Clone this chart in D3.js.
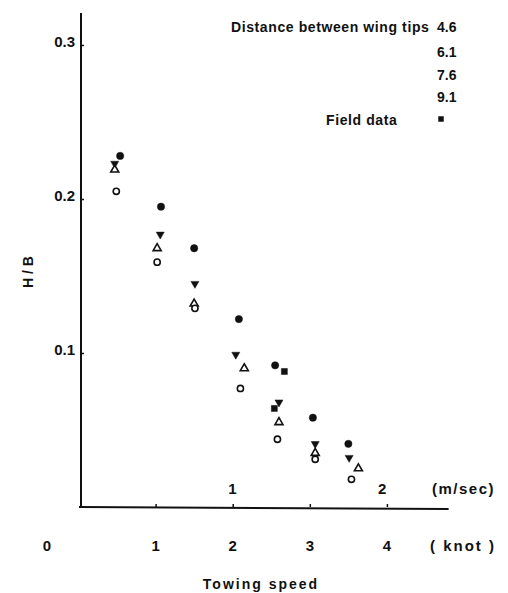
<!DOCTYPE html>
<html>
<head>
<meta charset="utf-8">
<title>H/B vs towing speed</title>
<script src="https://cdn.jsdelivr.net/npm/d3@7"></script>
<style>
  body { margin: 0; background: #fff; }
  svg text { font-family: "Liberation Sans", Arial, sans-serif; font-weight: bold; fill: #111; }
</style>
</head>
<body>
<div id="chart"></div>
<script>
// towing speed in knots, H/B
var wing46X = [0.54, 1.07, 1.50, 2.08, 2.55, 3.04, 3.50];
var wing46Y = [0.228, 0.195, 0.168, 0.122, 0.092, 0.058, 0.041];
var wing61X = [0.47, 1.06, 1.51, 2.04, 2.60, 3.07, 3.51];
var wing61Y = [0.223, 0.177, 0.145, 0.099, 0.068, 0.041, 0.032];
var wing76X = [0.47, 1.02, 1.50, 2.15, 2.60, 3.07, 3.63];
var wing76Y = [0.219, 0.168, 0.132, 0.090, 0.055, 0.035, 0.025];
var wing91X = [0.49, 1.02, 1.51, 2.10, 2.58, 3.07, 3.54];
var wing91Y = [0.205, 0.159, 0.129, 0.077, 0.044, 0.031, 0.018];
var fieldX = [2.67, 2.54];
var fieldY = [0.088, 0.064];

var legendLabels = ["4.6", "6.1", "7.6", "9.1"];
var knotTicks = [0, 1, 2, 3, 4];
var msTicks = [1, 2];
var yTicks = [0.1, 0.2, 0.3];

var W = 508, H = 593;
var svg = d3.select("#chart").append("svg").attr("width", W).attr("height", H);

var x = d3.scaleLinear().domain([0, 4.8]).range([78.5, 448.6]);
var y = d3.scaleLinear().domain([0, 0.32]).range([507, 14.2]);
var KNOT_PER_MS = 1.944;

// y axis
var yAxis = d3.axisLeft(y).tickValues(yTicks).tickFormat(d3.format(".1f"))
  .tickSizeInner(-3).tickSizeOuter(0).tickPadding(6);
var gy = svg.append("g").attr("transform", "translate(81,0)").call(yAxis);
gy.select(".domain").remove();
gy.selectAll("line").attr("stroke", "#111").attr("stroke-width", 1.5);
gy.selectAll("text").style("font-size", "15px").attr("dy", "0.1em");
svg.append("line").attr("x1", 81).attr("x2", 81).attr("y1", 13).attr("y2", y(0))
  .attr("stroke", "#111").attr("stroke-width", 2);

// x axis (knots below, m/sec above)
var xAxis = d3.axisBottom(x).tickValues(knotTicks.slice(1)).tickFormat("")
  .tickSizeInner(-3).tickSizeOuter(0);
var gx = svg.append("g").attr("transform", "translate(0," + y(0) + ")").call(xAxis);
gx.select(".domain").remove();
gx.selectAll("line").attr("stroke", "#111").attr("stroke-width", 1.5);
svg.append("line").attr("x1", 79).attr("x2", x(4.8)).attr("y1", y(0)).attr("y2", y(0) + 2)
  .attr("stroke", "#111").attr("stroke-width", 2);

svg.append("g").selectAll("text").data(knotTicks).join("text")
  .attr("x", function (d) { return d === 0 ? 47 : x(d); })
  .attr("y", 551).attr("text-anchor", "middle").style("font-size", "15px")
  .text(function (d) { return d; });
svg.append("text").attr("x", 430).attr("y", 551).style("font-size", "15px")
  .attr("letter-spacing", "2px").text("( knot )");

svg.append("g").selectAll("text").data(msTicks).join("text")
  .attr("x", function (d) { return x(d * KNOT_PER_MS) + 4; })
  .attr("y", 494).attr("text-anchor", "middle").style("font-size", "15px")
  .text(function (d) { return d; });
svg.append("text").attr("x", 432).attr("y", 494).style("font-size", "15px")
  .attr("letter-spacing", "1.5px").text("(m/sec)");

svg.append("text").attr("x", 261).attr("y", 589).attr("text-anchor", "middle")
  .style("font-size", "14px").attr("letter-spacing", "2px").text("Towing speed");

svg.append("text").attr("transform", "translate(33,272) rotate(-90)")
  .attr("text-anchor", "middle").style("font-size", "14px").text("H / B");

// legend
svg.append("text").attr("x", 231).attr("y", 32).style("font-size", "14px")
  .attr("letter-spacing", "0.6px").text("Distance between wing tips");
svg.append("g").selectAll("text").data(legendLabels).join("text")
  .attr("x", 437).attr("y", function (d, i) { return [32, 57, 80, 102][i]; })
  .style("font-size", "14px").text(function (d) { return d; });
svg.append("text").attr("x", 326).attr("y", 125).style("font-size", "14px")
  .attr("letter-spacing", "0.6px").text("Field data");
svg.append("path").attr("d", d3.symbol(d3.symbolSquare, 30)())
  .attr("transform", "translate(441,119)").attr("fill", "#111");

// points
function pts(xs, ys) { return xs.map(function (v, i) { return [v, ys[i]]; }); }
var series = [
  { data: pts(wing46X, wing46Y), type: d3.symbolCircle, size: 42, filled: true },
  { data: pts(wing61X, wing61Y), type: d3.symbolTriangle, size: 28, filled: true, flip: true },
  { data: pts(wing76X, wing76Y), type: d3.symbolTriangle, size: 28, filled: false },
  { data: pts(wing91X, wing91Y), type: d3.symbolCircle, size: 30, filled: false },
  { data: pts(fieldX, fieldY), type: d3.symbolSquare, size: 36, filled: true }
];
series.forEach(function (s) {
  svg.append("g").selectAll("path").data(s.data).join("path")
    .attr("d", d3.symbol(s.type, s.size)())
    .attr("transform", function (d) {
      return "translate(" + x(d[0]) + "," + y(d[1]) + ")" + (s.flip ? " rotate(180)" : "");
    })
    .attr("fill", s.filled ? "#111" : "#fff")
    .attr("stroke", "#111").attr("stroke-width", s.filled ? 0.5 : 1.6);
});
</script>
</body>
</html>
